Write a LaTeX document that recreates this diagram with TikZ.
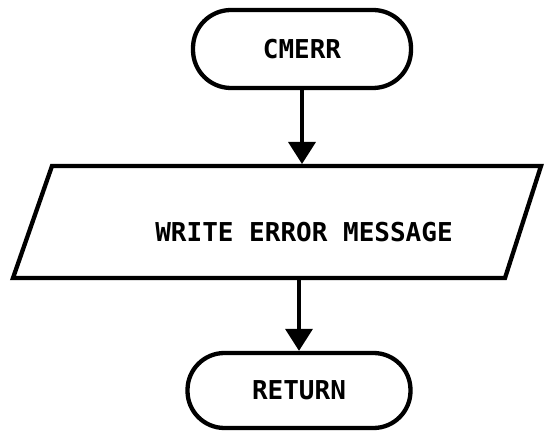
\documentclass[tikz,border=0pt]{standalone}
\usepackage{fontspec}
\setmonofont{DejaVu Sans Mono}
\usetikzlibrary{arrows.meta}
\tikzset{
  lbl/.style={font=\ttfamily\bfseries\fontsize{26}{30}\selectfont, inner sep=0pt},
  term/.style={draw, line width=4.3pt, rounded corners=#1, inner sep=0pt, lbl},
  flow/.style={line width=3.6pt, -{Triangle[width=27pt,length=22pt]}},
  box/.style={line width=4.3pt}
}
\begin{document}
\begin{tikzpicture}[x=1pt,y=-1pt]
\useasboundingbox (0,0) rectangle (544,435);
% terminals
\node[term=38pt, minimum width=218pt, minimum height=78pt] (cmerr) at (302,49) {CMERR};
\node[term=37pt, minimum width=223pt, minimum height=75pt] (ret) at (299,390.5) {RETURN};
% parallelogram
\coordinate (tl) at (52,166);
\coordinate (tr) at (541,166);
\coordinate (br) at (505,278);
\coordinate (bl) at (13,278);
\draw[box] (tl) -- (tr) -- (br) -- (bl) -- cycle;
\node[lbl] (msg) at (304,232) {WRITE ERROR MESSAGE};
% connectors
\coordinate (intop) at (302,164);
\coordinate (inbot) at ([yshift=-2pt]ret.north |- bl);
\draw[flow] (cmerr.south) -- (intop);
\draw[flow] (inbot) -- (ret.north);
\end{tikzpicture}
\end{document}
